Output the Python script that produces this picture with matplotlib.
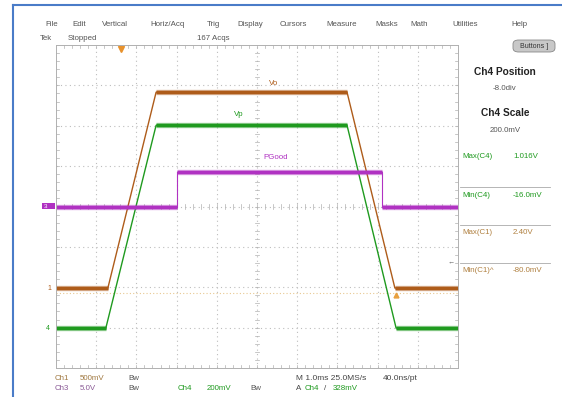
import matplotlib
matplotlib.use("Agg")
import matplotlib.pyplot as plt
from matplotlib.patches import FancyBboxPatch, Rectangle

# trace data, in graticule divisions (10 x 8)
vo_x = [0, 1.29, 2.49, 7.24, 8.43, 10]
vo_y = [1.98, 1.98, 6.83, 6.83, 1.98, 1.98]
vp_x = [0, 1.24, 2.49, 7.24, 8.46, 10]
vp_y = [0.99, 0.99, 6.01, 6.01, 0.99, 0.99]
pg_x = [0, 3.01, 3.01, 8.11, 8.11, 10]
pg_y = [4.0, 4.0, 4.85, 4.85, 4.0, 4.0]

menu = ["File", "Edit", "Vertical", "Horiz/Acq", "Trig", "Display", "Cursors",
        "Measure", "Masks", "Math", "Utilities", "Help"]
menu_x = [45, 72, 102, 150, 207, 237, 280, 326, 375, 410, 452, 511]

meas_names = ["Max(C4)", "Min(C4)", "Max(C1)", "Min(C1)^"]
meas_vals = ["1.016V", "-16.0mV", "2.40V", "-80.0mV"]

W, H = 562, 397
ORANGE = "#ae5c1a"
GREEN = "#1f9a1f"
PURPLE = "#b032c2"
FONT = "Liberation Sans"

plt.rcParams['font.family'] = [FONT, 'DejaVu Sans']

fig = plt.figure(figsize=(W / 100, H / 100), dpi=100)
fig.patch.set_facecolor("white")


def px(x):
    return x / W


def py(y):
    return 1 - y / H


def txt(x, y, s, **kw):
    kw.setdefault("fontsize", 5.7)
    kw.setdefault("color", "#555555")
    kw.setdefault("va", "center")
    fig.text(px(x), py(y), s, **kw)


# blue window border
fig.add_artist(plt.Line2D([px(13), px(13)], [py(5), py(397)], color="#4a7cc8", lw=1.5))
fig.add_artist(plt.Line2D([px(13), px(562)], [py(5), py(5)], color="#4a7cc8", lw=1.5))

# menu bar
for name, x in zip(menu, menu_x):
    txt(x, 24, name)
txt(40, 38, "Tek")
txt(68, 38, "Stopped")
txt(197, 38, "167 Acqs")

btn = FancyBboxPatch((px(513), py(52)), px(42), 12 / H,
                     boxstyle="round,pad=0,rounding_size=0.01",
                     transform=fig.transFigure, fc="#c8c8c8", ec="#888888", lw=0.6)
fig.add_artist(btn)
txt(534, 46, "Buttons ]", ha="center", color="#333333", fontsize=5)

# graticule
ax = fig.add_axes([px(56), 1 - 368 / H, 402 / W, 323 / H])
ax.set_xlim(0, 10)
ax.set_ylim(0, 8)
for s in ax.spines.values():
    s.set_color("#b0b0b0")
    s.set_linewidth(0.7)
ax.set_xticks([])
ax.set_yticks([])
for i in range(1, 10):
    ax.axvline(i, color="#bdbdbd", lw=0.8, ls=(0, (1, 3)))
for j in range(1, 8):
    ax.axhline(j, color="#bdbdbd", lw=0.8, ls=(0, (1, 3)))

# minor ticks on centre lines and edges
for k in range(1, 50):
    xv = k / 5
    ax.plot([xv, xv], [3.94, 4.06], color="#b0b0b0", lw=0.5)
    ax.plot([xv, xv], [0, 0.08], color="#b0b0b0", lw=0.5)
    ax.plot([xv, xv], [7.92, 8], color="#b0b0b0", lw=0.5)
for k in range(1, 40):
    yv = k / 5
    ax.plot([4.94, 5.06], [yv, yv], color="#b0b0b0", lw=0.5)
    ax.plot([0, 0.08], [yv, yv], color="#b0b0b0", lw=0.5)
    ax.plot([9.92, 10], [yv, yv], color="#b0b0b0", lw=0.5)

# ch1 ground reference (dotted)
ax.axhline(1.86, color="#e8c890", lw=0.8, ls=(0, (1, 2)))

# traces: thin edges, thick noisy flat parts
ax.plot(vo_x, vo_y, color=ORANGE, lw=1.0)
ax.plot(vp_x, vp_y, color=GREEN, lw=1.0)
ax.plot(pg_x, pg_y, color=PURPLE, lw=0.8)
for xs, ys, c in [(vo_x, vo_y, ORANGE), (vp_x, vp_y, GREEN), (pg_x, pg_y, PURPLE)]:
    for a in range(0, len(xs) - 1):
        if ys[a] == ys[a + 1]:
            ax.plot(xs[a:a + 2], ys[a:a + 2], color=c, lw=3.8, alpha=0.55,
                    solid_capstyle="butt")
            ax.plot(xs[a:a + 2], ys[a:a + 2], color=c, lw=2.2, solid_capstyle="butt")

ax.text(5.30, 7.05, "Vo", color=ORANGE, fontsize=5.7, va="center")
ax.text(4.43, 6.29, "Vp", color=GREEN, fontsize=5.7, va="center")
ax.text(5.15, 5.22, "PGood", color=PURPLE, fontsize=5.7, va="center")

# markers
ax.plot([8.45], [1.8], marker="^", ms=3.5, color="#e8a040", clip_on=False)
ax.plot([1.62], [7.9], marker="v", ms=5, color="#e8922c", clip_on=False)
ax.text(9.75, 2.62, "\u2190", fontsize=5, color="#666666", va="center")

txt(47, 288, "1", color=ORANGE, fontsize=5)
txt(46, 328, "4", color=GREEN, fontsize=5)
fig.add_artist(Rectangle((px(42), py(209)), px(13), 6 / H, transform=fig.transFigure,
                         fc=PURPLE, ec="none"))
txt(44, 206, "3", color="white", fontsize=4.5)

# right panel
txt(505, 72, "Ch4 Position", ha="center", color="#222222", fontsize=7.3, weight="bold")
txt(505, 88, "-8.0div", ha="center")
txt(505, 113, "Ch4 Scale", ha="center", color="#222222", fontsize=7.3, weight="bold")
txt(505, 130, "200.0mV", ha="center")
for k, (n, v) in enumerate(zip(meas_names, meas_vals)):
    yy = 157 + k * 38
    c = GREEN if k < 2 else "#b08040"
    txt(462, yy, n, color=c)
    txt(513, yy, v, color=c)
    if k > 0:
        fig.add_artist(plt.Line2D([px(460), px(550)], [py(yy - 8), py(yy - 8)],
                                  color="#aaaaaa", lw=0.6))

# bottom status
txt(55, 378, "Ch1", color="#a07840")
txt(80, 378, "500mV", color="#a07840")
txt(128, 378, "Bw")
txt(55, 389, "Ch3", color="#8a5a96")
txt(80, 389, "5.0V", color="#8a5a96")
txt(128, 389, "Bw")
txt(178, 389, "Ch4", color=GREEN)
txt(207, 389, "200mV", color=GREEN)
txt(250, 389, "Bw")
txt(296, 378, "M 1.0ms 25.0MS/s", color="#444444", fontsize=6)
txt(383, 378, "40.0ns/pt", color="#444444", fontsize=6)
txt(296, 389, "A", color="#444444")
txt(305, 389, "Ch4", color=GREEN)
txt(324, 389, "/", color="#444444")
txt(333, 389, "328mV", color=GREEN)

fig.savefig("out.png", dpi=100)
